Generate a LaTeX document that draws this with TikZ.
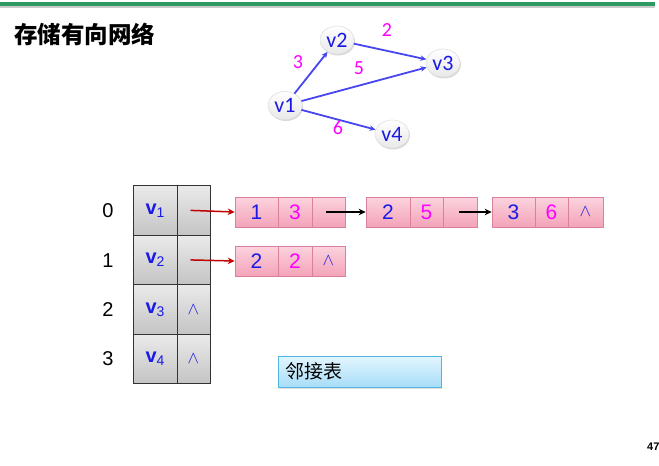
\documentclass[tikz,border=0pt]{standalone}
\usepackage{fontspec}
\setmainfont{Carlito}
\newfontfamily\cjk{Noto Sans CJK SC}
\newfontfamily\arialish{Liberation Sans}
\usetikzlibrary{arrows.meta,shadows,shapes.geometric}
\definecolor{vblue}{HTML}{1A1AE6}
\definecolor{emag}{HTML}{FF00FF}
\definecolor{edgeblue}{HTML}{4646F0}
\definecolor{pinkT}{HTML}{FBD3DE}
\definecolor{pinkB}{HTML}{F4A3B9}
\definecolor{pinkD}{HTML}{D9809A}
\definecolor{grayT}{HTML}{EAEAEA}
\definecolor{grayB}{HTML}{C4C4C4}
\definecolor{blueT}{HTML}{E4F6FF}
\definecolor{blueB}{HTML}{A6DDF7}
\definecolor{blueD}{HTML}{52B4E4}
\definecolor{lineG}{HTML}{2E9A62}
\definecolor{arrRed}{HTML}{C00000}
\tikzset{
  gnode/.style={ellipse, minimum width=34pt, minimum height=28pt, inner sep=0pt,
    top color=white, bottom color=gray!18, draw=gray!25, line width=0.6pt,
    drop shadow={shadow xshift=1pt, shadow yshift=-1.5pt, opacity=0.3},
    font=\fontsize{22}{22}\selectfont, text=vblue},
  gedge/.style={draw=edgeblue, line width=1.8pt, -{Stealth[length=6pt,width=5.5pt]}},
  wlabel/.style={text=emag, font=\fontsize{20}{20}\selectfont},
  tcell/.style={rectangle, draw=black!80, line width=0.6pt, top color=grayT, bottom color=grayB,
    minimum height=49.5pt, inner sep=0pt, text=vblue, font=\arialish\fontsize{20}{20}\selectfont},
  pcell/.style={rectangle, draw=pinkD, line width=0.6pt, top color=pinkT, bottom color=pinkB,
    minimum height=30pt, inner sep=0pt, font=\arialish\fontsize{21}{21}\selectfont},
  idx/.style={font=\arialish\fontsize{20}{20}\selectfont},
  redarr/.style={draw=arrRed, line width=1.5pt, -{Stealth[length=7pt,width=6.5pt]}},
  blkarr/.style={draw=black, line width=1.5pt, -{Stealth[length=7pt,width=6.5pt]}},
}
\newcommand{\nilsym}{{\fontsize{17}{17}\selectfont$\wedge$}}
\newcommand{\vsub}[1]{\raisebox{-2pt}{\textbf{v}\raisebox{-3pt}{\fontsize{14}{14}\selectfont #1}}}
\begin{document}
\begin{tikzpicture}[x=1pt,y=-1pt]
\useasboundingbox (0,0) rectangle (659,466);
% top line
\fill[gray!40] (0,5.5) rectangle (655,7.5);
\fill[lineG] (0,2) rectangle (655,5.5);
% title
\node[anchor=west, inner sep=0pt, font=\cjk\bfseries\fontsize{23.5}{23.5}\selectfont] (title) at (14,34) {存储有向网络};
% graph
\node[gnode] (v1) at (285,105.5) {v1};
\node[gnode] (v2) at (337,40) {v2};
\node[gnode] (v3) at (443,63) {v3};
\node[gnode] (v4) at (392,134) {v4};
\draw[gedge] (v1) -- (v2);
\draw[gedge] (v2) -- (v3);
\draw[gedge] (v1) -- (v3);
\draw[gedge] (v1) -- (v4);
\node[wlabel] (w2) at (387,30) {2};
\node[wlabel] (w3) at (298,62) {3};
\node[wlabel] (w5) at (359,68) {5};
\node[wlabel] (w6) at (338,128) {6};
% table
\foreach \i/\y in {0/211,1/261,2/310,3/359}{
  \node[idx] (i\i) at (108,\y) {\i};
}
\node[tcell, minimum width=44pt] (t0) at (155,210.5) {\vsub{1}};
\node[tcell, minimum width=33pt] (s0) at (193.5,210.5) {};
\node[tcell, minimum width=44pt] (t1) at (155,260) {\vsub{2}};
\node[tcell, minimum width=33pt] (s1) at (193.5,260) {};
\node[tcell, minimum width=44pt] (t2) at (155,309.5) {\vsub{3}};
\node[tcell, minimum width=33pt] (s2) at (193.5,309.5) {\nilsym};
\node[tcell, minimum width=44pt] (t3) at (155,359) {\vsub{4}};
\node[tcell, minimum width=33pt] (s3) at (193.5,359) {\nilsym};
% lists row 0
\node[pcell, minimum width=43pt, text=vblue] (a1) at (256.5,212) {1};
\node[pcell, minimum width=34pt, text=emag] (a2) at (295,212) {3};
\node[pcell, minimum width=33pt] (a3) at (328.5,212) {};
\node[pcell, minimum width=44pt, text=vblue] (b1) at (388,212) {2};
\node[pcell, minimum width=33pt, text=emag] (b2) at (426.5,212) {5};
\node[pcell, minimum width=34pt] (b3) at (460,212) {};
\node[pcell, minimum width=43pt, text=vblue] (c1) at (513.5,212) {3};
\node[pcell, minimum width=33pt, text=emag] (c2) at (551.5,212) {6};
\node[pcell, minimum width=35pt, text=vblue] (c3) at (585.5,212) {\nilsym};
% lists row 1
\node[pcell, minimum width=43pt, text=vblue] (d1) at (256.5,261) {2};
\node[pcell, minimum width=34pt, text=emag] (d2) at (295,261) {2};
\node[pcell, minimum width=33pt, text=vblue] (d3) at (328.5,261) {\nilsym};
% arrows
\draw[redarr, shorten <=-3pt] (s0.center) -- (a1.west);
\draw[redarr, shorten <=-3pt] (s1.center) -- (d1.west);
\draw[blkarr, shorten <=-3pt] (a3.center) -- (b1.west);
\draw[blkarr, shorten <=-1pt] (b3.center) -- (c1.west);
% label box
\node[rectangle, draw=blueD, line width=0.8pt, top color=blueT, bottom color=blueB,
  minimum width=163pt, minimum height=31pt, inner sep=0pt,
  drop shadow={shadow xshift=1pt, shadow yshift=-1.5pt, opacity=0.25}] (box) at (359.5,371.5) {};
\node[anchor=west, inner sep=0pt, font=\cjk\fontsize{19}{19}\selectfont] (boxt) at (285,371.5) {邻接表};
% page number
\node[anchor=west, inner sep=0pt, font=\arialish\bfseries\fontsize{11}{11}\selectfont] (pg) at (647,447) {47};
\end{tikzpicture}
\end{document}
